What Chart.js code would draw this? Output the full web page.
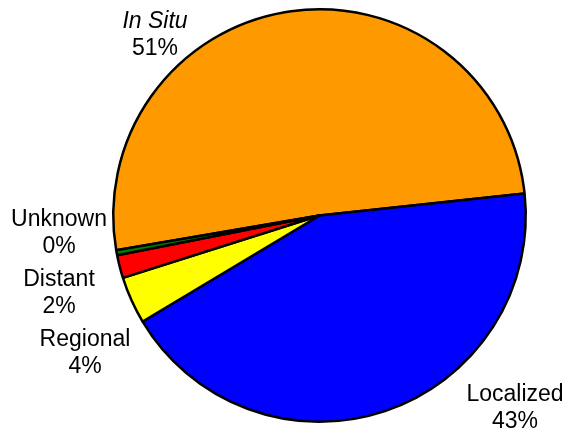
<!DOCTYPE html>
<html lang="en">
<head>
    <meta charset="UTF-8">
    <title>Pie</title>
    <script src="https://cdn.jsdelivr.net/npm/chart.js"></script>
    <style>
        html, body { margin: 0; padding: 0; background: #fff; }
        #wrap { width: 566px; height: 429px; }
    </style>
</head>
<body>
    <div id="wrap"><canvas id="chartPie" width="566" height="429"></canvas></div>

<script>
    // categories + values (percent share), clockwise from In Situ
    var categorias = ["In Situ", "Localized", "Regional", "Distant", "Unknown"];
    var valores = [51.0, 43.1, 3.7, 1.8, 0.4];
    var cores = ['#FF9900', '#0000FF', '#FFFF00', '#FF0000', '#008000'];

    // where each outside label goes (text center x, first baseline y)
    var posLabels = [[155, 28], [515, 401], [85, 346], [59, 286], [59, 226]];

    var labelsFora = {
        id: 'labelsFora',
        afterDraw: function (chart) {
            var c = chart.ctx;
            var total = valores.reduce(function (a, b) { return a + b }, 0);
            c.save();
            c.fillStyle = '#000';
            c.textAlign = 'center';
            c.textBaseline = 'alphabetic';
            categorias.forEach(function (nome, i) {
                var p = posLabels[i];
                c.font = (i == 0 ? 'italic ' : '') + '23px "Liberation Sans", Arial, sans-serif';
                c.fillText(nome, p[0], p[1]);
                c.font = '23px "Liberation Sans", Arial, sans-serif';
                c.fillText(Math.round(valores[i] / total * 100) + '%', p[0], p[1] + 27);
            });
            c.restore();
        }
    };

    var pie = new Chart(document.getElementById('chartPie').getContext('2d'), {
        type: 'pie',
        data: {
            labels: categorias,
            datasets: [{
                data: valores,
                backgroundColor: cores,
                borderColor: '#000',
                borderWidth: 2.5
            }]
        },
        options: {
            responsive: false,
            animation: false,
            rotation: -99.7,
            layout: {
                padding: { left: 112, right: 39, top: 8, bottom: 6 }
            },
            plugins: {
                legend: { display: false },
                tooltip: { enabled: false }
            }
        },
        plugins: [labelsFora]
    })
</script>
</body>
</html>
